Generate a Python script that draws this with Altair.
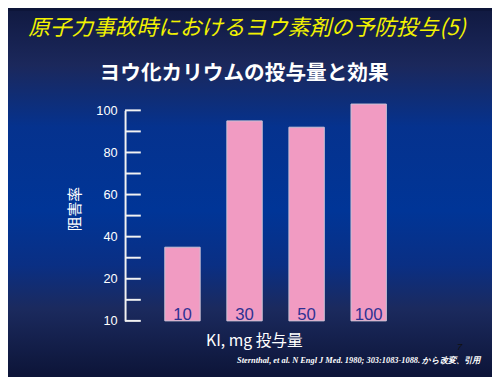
import altair as alt
import pandas as pd

# ---- data ----
doses = ["10", "30", "50", "100"]
inhibition = [35, 95, 92, 103]
y_ticks = [0, 10, 20, 30, 40, 50, 60, 70, 80, 90, 100]
y_labels = ["10", "", "20", "", "40", "", "60", "", "80", "", "100"]

title_text = "原子力事故時におけるヨウ素剤の予防投与(5)"
subtitle_text = "ヨウ化カリウムの投与量と効果"
y_title = "阻害率"
x_title = "KI, mg 投与量"
citation = "Sternthal, et al. N Engl J Med. 1980; 303:1083-1088. から改変、引用"
page_no = "7"

df = pd.DataFrame({"dose": doses, "value": inhibition})
ticks_df = pd.DataFrame({"t": y_ticks, "lab": y_labels})

W, H = 306, 214
PL, PT = 119, 101
PR, PB = 492 - PL - W, 369 - PT - H

label_expr = "{" + ",".join(f"'{t}':'{l}'" for t, l in zip(y_ticks, y_labels)) + "}[datum.value]"

bg = alt.Chart(alt.Data(values=[{}])).mark_rect(
    fill=alt.Gradient(
        gradient="linear", x1=0, y1=0, x2=0, y2=1,
        stops=[
            alt.GradientStop(offset=0.0, color="#111a42"),
            alt.GradientStop(offset=0.15, color="#1b285c"),
            alt.GradientStop(offset=0.32, color="#05328e"),
            alt.GradientStop(offset=0.55, color="#003597"),
            alt.GradientStop(offset=0.70, color="#0a2f84"),
            alt.GradientStop(offset=0.82, color="#1b2a5e"),
            alt.GradientStop(offset=1.0, color="#0d1539"),
        ],
    ),
    strokeWidth=0,
).encode(
    x=alt.value(-PL), x2=alt.value(W + PR),
    y=alt.value(-PT), y2=alt.value(H + PB),
)

xscale = alt.Scale(domain=doses, paddingInner=0.43, paddingOuter=0.64)
yscale = alt.Scale(domain=[0, 100], nice=False)

bars = alt.Chart(df).mark_bar(
    color="#f19bc2", stroke="#c9c3d6", strokeWidth=1
).encode(
    x=alt.X("dose:N", scale=xscale, sort=doses,
            axis=alt.Axis(labels=False, ticks=False, domain=False, title=x_title,
                          titleColor="white", titleFont="Noto Sans CJK JP",
                          titleFontSize=16, titleFontWeight="normal",
                          titleX=131, titleY=20, titleBaseline="middle",
                          titleAlign="center", zindex=2)),
    y=alt.Y("value:Q", scale=yscale,
            axis=alt.Axis(values=y_ticks, labelExpr=label_expr, ticks=False,
                          domain=True, domainColor="#f2f2f2", domainWidth=2,
                          labelColor="white", labelFont="Liberation Sans",
                          labelFontSize=13, labelPadding=8, grid=False,
                          title=y_title, titleColor="white",
                          titleFont="Noto Sans CJK JP", titleFontSize=15,
                          titleFontWeight="normal", titleAngle=270,
                          titleX=-51, titleY=100, titleAlign="center",
                          titleBaseline="middle", zindex=2)),
)

labels = alt.Chart(df).mark_text(
    color="#2e3192", fontSize=17, font="Liberation Sans", baseline="alphabetic", dy=-1
).encode(
    x=alt.X("dose:N", scale=xscale, sort=doses),
    y=alt.value(H),
    text="dose:N",
)

tick_rules = alt.Chart(ticks_df).mark_rule(color="#f2f2f2", strokeWidth=2).encode(
    x=alt.value(0), x2=alt.value(16),
    y=alt.Y("t:Q", scale=yscale),
)

def txt(text, x, y, **kw):
    return alt.Chart(alt.Data(values=[{"s": text}])).mark_text(**kw).encode(
        x=alt.value(x), y=alt.value(y), text="s:N"
    )

title = txt(title_text, 124, -84, color="#f2f200", fontSize=22, fontStyle="italic",
            font="Noto Sans CJK JP", fontWeight="normal", align="center", baseline="middle")
subtitle = txt(subtitle_text, 121, -37, color="white", fontSize=21, fontWeight="bold",
               font="Noto Sans CJK JP", align="center", baseline="middle")
cite = txt(citation, 361, 254, color="white", fontSize=8.5, fontStyle="italic",
           fontWeight="bold", font="Liberation Serif", align="right", baseline="middle")
page = txt(page_no, 340, 241, color="#111111", fontSize=10, fontStyle="italic",
           font="Liberation Sans", align="center", baseline="middle")

chart = alt.layer(bg, bars, tick_rules, labels, title, subtitle, cite, page).properties(
    width=W, height=H,
    autosize=alt.AutoSizeParams(type="none"),
    padding={"left": PL, "top": PT, "right": PR, "bottom": PB},
    background="#0d1539",
).configure_view(stroke=None)

chart.save("out.html", embed_options={"renderer": "svg", "actions": False})
